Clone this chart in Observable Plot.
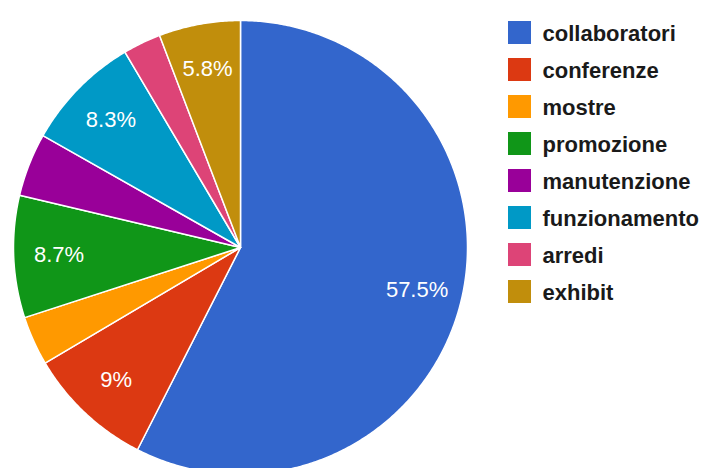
<!DOCTYPE html>
<html>
<head>
<meta charset="utf-8">
<script src="https://cdn.jsdelivr.net/npm/d3@7"></script>
<script src="https://cdn.jsdelivr.net/npm/@observablehq/plot@0.6"></script>
<style>
  html, body { margin: 0; padding: 0; background: #fff; }
  #wrap { position: relative; width: 709px; height: 468px; overflow: hidden; background: #fff; }
  #pie { position: absolute; left: 0; top: 0; }
  #legend { position: absolute; left: 495px; top: 0; }
  svg { overflow: hidden; }
</style>
</head>
<body>
<div id="wrap"><div id="pie"></div><div id="legend"></div></div>
<script>
const categories = ["collaboratori", "conferenze", "mostre", "promozione", "manutenzione", "funzionamento", "arredi", "exhibit"];
const values = [57.5, 9, 3.5, 8.7, 4.5, 8.3, 2.7, 5.8];
const colors = ["#3366cc", "#dc3912", "#ff9900", "#109618", "#990099", "#0099c6", "#dd4477", "#c18e0c"];
const labelMin = 5;

// Pie layout (angles from 12 o'clock, clockwise)
const arcs = d3.pie().sort(null).value(d => d.value)(
  categories.map((name, i) => ({name, value: values[i]}))
);

// Slice polygons in unit-circle data space
const slicePts = [];
for (const a of arcs) {
  const name = a.data.name;
  slicePts.push({name, x: 0, y: 0});
  const n = Math.max(2, Math.ceil((a.endAngle - a.startAngle) / (Math.PI / 360)));
  for (let k = 0; k <= n; k++) {
    const t = a.startAngle + (a.endAngle - a.startAngle) * k / n;
    slicePts.push({name, x: Math.sin(t), y: Math.cos(t)});
  }
}

const labels = arcs.filter(a => a.data.value >= labelMin).map(a => {
  const m = (a.startAngle + a.endAngle) / 2;
  return {text: a.data.value + "%", x: 0.8 * Math.sin(m), y: 0.8 * Math.cos(m)};
});

const color = {domain: categories, range: colors};

const pie = Plot.plot({
  width: 480,
  height: 468,
  margin: 0,
  x: {domain: [-1, 1], range: [13, 467], axis: null},
  y: {domain: [-1, 1], range: [474, 20], axis: null},
  color,
  style: {background: "transparent"},
  marks: [
    Plot.line(slicePts, {x: "x", y: "y", z: "name", fill: "name", stroke: "white", strokeWidth: 1.5, curve: "linear-closed"}),
    Plot.text(labels, {x: "x", y: "y", text: "text", fill: "white", fontSize: 22, fontFamily: "Liberation Sans, Arial, sans-serif"})
  ]
});
document.getElementById("pie").append(pie);

const legend = Plot.plot({
  width: 214,
  height: 468,
  margin: 0,
  x: {domain: [0, 1], range: [24, 200], axis: null},
  y: {type: "point", domain: categories, range: [29, 293], padding: 0, axis: null},
  color,
  style: {background: "transparent"},
  marks: [
    Plot.dot(categories, {x: () => 0, y: d => d, fill: d => d, symbol: "square", r: 13, stroke: null}),
    Plot.text(categories, {x: () => 0, y: d => d, text: d => d, dx: 23, dy: 1, textAnchor: "start", fill: "#1a1a1a", fontSize: 22, fontWeight: "bold", fontFamily: "Liberation Sans, Arial, sans-serif", style: "letter-spacing: 1px"})
  ]
});
document.getElementById("legend").append(legend);
</script>
</body>
</html>
